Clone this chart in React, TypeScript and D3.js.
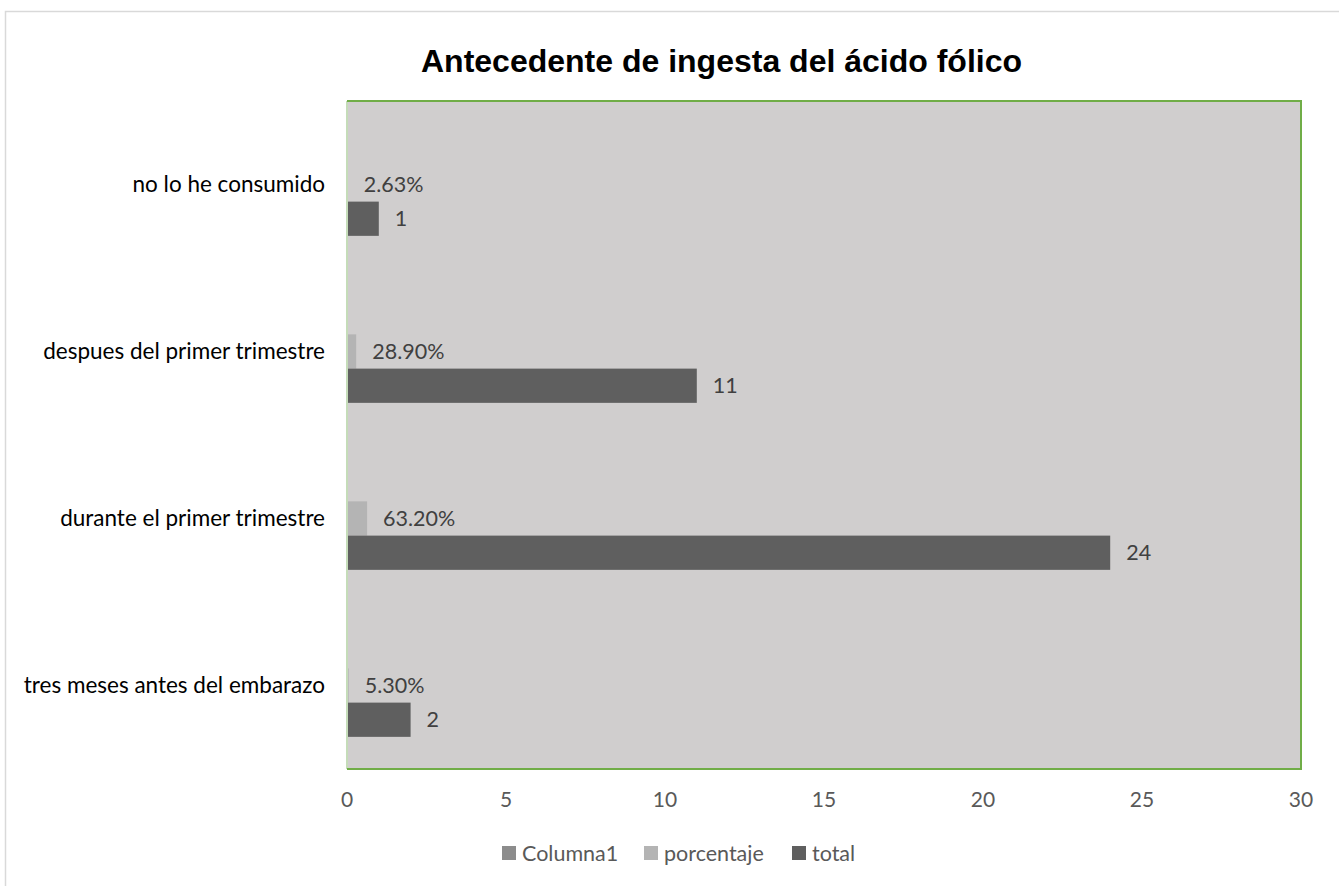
import React from "react";
import * as d3 from "d3";

const categories = [
  "tres meses antes del embarazo",
  "durante el primer trimestre",
  "despues del primer trimestre",
  "no lo he consumido",
];
const columna1: (number | null)[] = [null, null, null, null];
const porcentaje = [0.053, 0.632, 0.289, 0.0263];
const porcentajeLabels = ["5.30%", "63.20%", "28.90%", "2.63%"];
const total = [2, 24, 11, 1];
const xTicks = [0, 5, 10, 15, 20, 25, 30];
const seriesNames = ["Columna1", "porcentaje", "total"];
const seriesColors = ["#8c8c8c", "#b4b4b4", "#5f5f5f"];

const W = 1339;
const H = 886;
const plot = { left: 347, right: 1301, top: 101, bottom: 769 };
const font = "Lato, 'Open Sans', sans-serif";

export default function App() {
  const x = d3.scaleLinear().domain([0, 30]).range([plot.left, plot.right]);
  // categories run bottom to top, as in a horizontal bar chart
  const y = d3
    .scaleBand<string>()
    .domain([...categories].reverse())
    .range([plot.top, plot.bottom])
    .paddingInner(0.385)
    .paddingOuter(0.1925);
  const inner = d3
    .scaleBand<string>()
    .domain(seriesNames)
    .range([0, y.bandwidth()]);
  const bh = inner.bandwidth();

  const legendItems = [
    { name: "Columna1", x: 502 },
    { name: "porcentaje", x: 644 },
    { name: "total", x: 792 },
  ];

  return (
    <div style={{ position: "fixed", left: 0, top: 0 }}>
      <svg width={W} height={H} style={{ display: "block", background: "#fff" }}>
        <rect x={5.5} y={11.5} width={W + 20} height={H + 20} fill="#fff" stroke="#d9d9d9" strokeWidth={1.5} />
        <text x={721.5} y={72} textAnchor="middle" fontFamily="'Liberation Sans', Arial, sans-serif" fontWeight="bold" fontSize={32} fill="#000">
          Antecedente de ingesta del ácido fólico
        </text>
        <rect x={plot.left} y={plot.top} width={plot.right - plot.left} height={plot.bottom - plot.top} fill="#d0cece" />
        {/* bars */}
        {categories.map((c, i) => {
          const g = y(c)!;
          const vals = [columna1[i], porcentaje[i], total[i]];
          return (
            <g key={c}>
              {vals.map((v, s) =>
                v == null ? null : (
                  <rect key={s} x={x(0)} y={g + inner(seriesNames[s])!} width={x(v) - x(0)} height={bh} fill={seriesColors[s]} />
                )
              )}
              <text x={x(porcentaje[i]) + 16} y={g + inner("porcentaje")! + bh / 2} dy="0.35em" fontFamily={font} fontSize={21.5} fill="#404040">
                {porcentajeLabels[i]}
              </text>
              <text x={x(total[i]) + 16} y={g + inner("total")! + bh / 2} dy="0.35em" fontFamily={font} fontSize={21.5} fill="#404040">
                {total[i]}
              </text>
              <text x={325} y={g + y.bandwidth() / 2} dy="0.35em" textAnchor="end" fontFamily={font} fontSize={22.5} fill="#000">
                {c}
              </text>
            </g>
          );
        })}
        {/* plot frame */}
        <line x1={plot.left} x2={plot.left} y1={plot.top} y2={plot.bottom} stroke="#c5dcb9" strokeWidth={2} />
        <path d={`M${plot.left},${plot.top}H${plot.right}V${plot.bottom}H${plot.left}`} fill="none" stroke="#70ad47" strokeWidth={2} />
        {/* x axis labels */}
        {xTicks.map((t) => (
          <text key={t} x={x(t)} y={800} dy="0.35em" textAnchor="middle" fontFamily={font} fontSize={21} fill="#595959">
            {t}
          </text>
        ))}
        {/* legend */}
        {legendItems.map((it, k) => (
          <g key={it.name}>
            <rect x={it.x} y={846} width={14} height={14} fill={seriesColors[k]} />
            <text x={it.x + 20} y={853} dy="0.35em" fontFamily={font} fontSize={21.5} fill="#595959">
              {it.name}
            </text>
          </g>
        ))}
      </svg>
    </div>
  );
}
